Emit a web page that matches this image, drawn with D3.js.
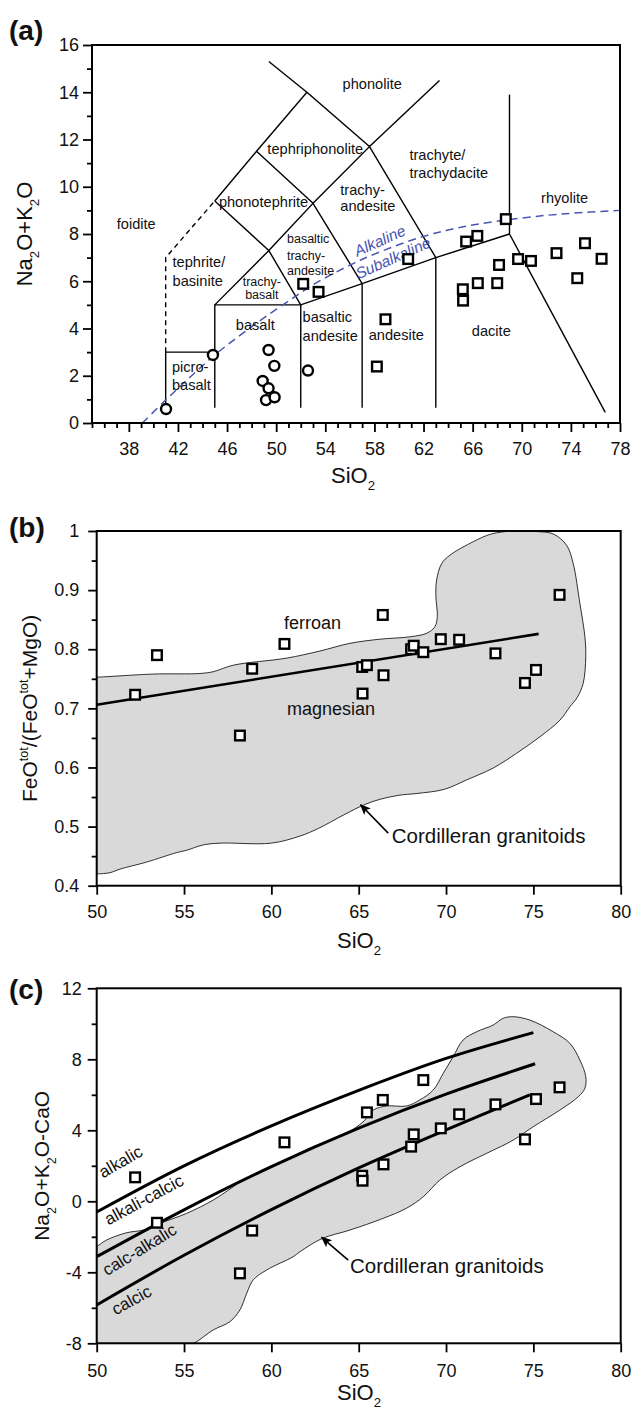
<!DOCTYPE html>
<html>
<head>
<meta charset="utf-8">
<script src="https://cdn.jsdelivr.net/npm/d3@7"></script>
<style>
  html, body { margin: 0; padding: 0; background: #fff; }
  svg text { font-family: "Liberation Sans", Arial, Helvetica, sans-serif; fill: #111; }
</style>
</head>
<body>
<svg id="fig" width="632" height="1412"></svg>
<script>
// ---------------- sample data (same 19 granitoid samples in all panels) ----------------
const sampleSiO2   = [52.2, 53.45, 58.2, 58.9, 60.75, 65.2, 65.22, 65.47, 66.38, 66.42, 68.0, 68.15, 68.7, 69.7, 70.75, 72.83, 74.52, 75.15, 76.5];
const sampleAlk    = [5.89, 5.55, 2.39, 4.39, 6.94, 5.66, 5.18, 7.68, 7.92, 5.92, 5.92, 6.69, 8.63, 6.94, 6.86, 7.19, 6.13, 7.61, 6.95];
const sampleFeNum  = [0.723, 0.790, 0.654, 0.767, 0.809, 0.770, 0.725, 0.773, 0.858, 0.756, 0.800, 0.806, 0.795, 0.817, 0.816, 0.793, 0.743, 0.765, 0.892];
const sampleMALI   = [1.35, -1.21, -4.06, -1.65, 3.32, 1.44, 1.16, 5.01, 5.71, 2.08, 3.08, 3.77, 6.83, 4.11, 4.90, 5.46, 3.49, 5.76, 6.42];

// basalts (circles, TAS only)
const basaltSiO2 = [41.03, 44.85, 49.38, 49.85, 48.9, 49.38, 49.17, 49.87, 52.59];
const basaltAlk  = [0.59, 2.88, 3.09, 2.42, 1.78, 1.47, 0.97, 1.09, 2.22];

// ---------------- TAS field boundaries ----------------
const tasSolid = [
  [[41, 0.65], [41, 3], [45, 3]],
  [[45, 0.65], [45, 5], [52, 5], [57, 5.9], [63, 7], [69, 8]],
  [[52, 0.65], [52, 5]],
  [[57, 0.65], [57, 5.9]],
  [[63, 0.65], [63, 7]],
  [[69, 8], [76.8, 0.45]],
  [[69, 8], [69, 13.9]],
  [[45, 5], [49.4, 7.3], [52, 5]],
  [[49.4, 7.3], [53, 9.3], [57, 5.9]],
  [[53, 9.3], [57.6, 11.7], [63, 7]],
  [[45, 9.4], [49.4, 7.3]],
  [[45, 9.4], [48.4, 11.5], [53, 9.3]],
  [[48.4, 11.5], [52.5, 14], [57.6, 11.7]],
  [[52.5, 14], [49.4, 15.3]],
  [[57.6, 11.7], [63.3, 14.5]]
];
const tasDashed = [[41, 3], [41, 7], [45, 9.4]];
const alkalineDivide = [[39.1, 0], [41, 0.97], [43, 1.95], [45, 2.88], [47.1, 3.73], [49, 4.45], [51.15, 5.21],
  [53, 5.85], [55.5, 6.55], [58, 7.15], [62, 7.9], [65, 8.28], [68.25, 8.56], [72, 8.79], [75, 8.91], [78, 9.0]];

const tasNames = [
  ["phonolite", 57.82, 14.14, "middle", 0], ["tephriphonolite", 53.18, 11.4, "middle", 0],
  ["trachyte/", 60.85, 11.14, "start", 0], ["trachydacite", 60.85, 10.38, "start", 0],
  ["rhyolite", 73.49, 9.31, "middle", 0], ["foidite", 38.6, 8.2, "middle", 0],
  ["phonotephrite", 48.97, 9.16, "middle", 0],
  ["trachy-", 55.22, 9.64, "start", 0], ["andesite", 55.22, 8.97, "start", 0],
  ["basaltic", 50.88, 7.61, "start", 1], ["trachy-", 50.88, 6.91, "start", 1], ["andesite", 50.88, 6.27, "start", 1],
  ["tephrite/", 41.56, 6.6, "start", 0], ["basinite", 41.56, 5.82, "start", 0],
  ["trachy-", 48.83, 5.78, "middle", 1], ["basalt", 48.83, 5.24, "middle", 1],
  ["basalt", 48.3, 3.94, "middle", 0],
  ["picro-", 41.51, 2.17, "start", 0], ["basalt", 41.51, 1.4, "start", 0],
  ["basaltic", 52.15, 4.27, "start", 0], ["andesite", 52.15, 3.47, "start", 0],
  ["andesite", 59.78, 3.52, "middle", 0], ["dacite", 67.52, 3.7, "middle", 0]
];

// ---------------- Fe-number panel ----------------
const ferroanDivide = [[50, 0.706], [75.3, 0.826]];
const cordilleranFe = [[50, 0.753], [50.19, 0.753], [53.24, 0.758], [55.91, 0.759], [56.67, 0.762], [57.82, 0.773],
  [60.88, 0.785], [62.78, 0.797], [64.5, 0.81], [66.22, 0.817], [67.93, 0.821], [68.89, 0.827], [69.36, 0.838],
  [69.5, 0.855], [69.42, 0.889], [69.46, 0.917], [69.75, 0.945], [70.22, 0.959], [71.56, 0.982], [72.6, 0.995],
  [73.85, 1.0], [75.2, 0.999], [76.14, 0.995], [76.9, 0.976], [77.28, 0.945], [77.66, 0.878], [77.95, 0.821],
  [78.0, 0.787], [77.85, 0.742], [77.5, 0.718], [77.1, 0.703], [76.52, 0.68], [75.38, 0.652], [74.04, 0.624],
  [72.7, 0.599], [71.18, 0.579], [69.9, 0.563], [68.33, 0.556], [67.3, 0.553], [66.2, 0.546], [65.32, 0.537],
  [64.16, 0.520], [62.7, 0.497], [61.64, 0.484], [60.0, 0.472], [57.06, 0.472], [56.1, 0.469], [55.15, 0.460],
  [54.58, 0.456], [52.86, 0.440], [51.33, 0.428], [50.76, 0.422], [50.1, 0.420], [50, 0.42]];

// ---------------- MALI panel ----------------
const maliAlkalic  = [[50, -0.6], [55, 2.0], [60, 4.25], [65, 6.25], [70, 8.05], [75, 9.5]];
const maliAlkCalc  = [[50, -3.12], [55, -0.48], [60, 1.95], [65, 4.12], [70, 6.04], [75.1, 7.75]];
const maliCalcAlk  = [[50, -5.84], [55, -3.04], [60, -0.47], [65, 1.88], [70, 4.02], [74.8, 6.0]];
const cordilleranMALI = [[50, -2.56], [50.57, -2.18], [51.72, -1.77], [52.67, -1.62], [53.62, -1.24], [55.15, -0.68],
  [56.67, 0.07], [57.82, 0.82], [58.3, 1.15], [60, 1.9], [62, 2.9], [64.3, 3.85], [65.26, 4.48], [65.83, 5.14],
  [66.6, 5.37], [67.74, 5.37], [68.5, 5.71], [69.27, 6.27], [69.84, 7.21], [70.41, 8.15], [70.98, 9.09], [71.75, 9.55],
  [72.7, 9.93], [73.27, 10.31], [73.85, 10.4], [74.8, 10.21], [76.14, 9.55], [77.09, 8.9], [77.66, 7.96], [78.0, 7.02],
  [77.95, 6.37], [77.57, 5.89], [76.52, 5.14], [74.99, 4.2], [73.85, 3.45], [72.32, 2.7], [70.8, 1.95], [69.65, 1.2],
  [68.7, 0.26], [67.74, -0.39], [66.4, -0.96], [64.5, -1.62], [62.9, -2.1], [61.64, -2.84], [61.25, -3.12],
  [59.73, -3.87], [58.96, -4.43], [58.59, -5.18], [58.2, -6.12], [57.63, -6.78], [56.67, -7.25], [55.72, -7.91], [55.5, -8]];
const maliNames = [["alkalic", 51.53, 1.95, -29.7], ["alkali-calcic", 52.86, -0.2, -28.4],
  ["calc-alkalic", 52.62, -3.0, -31.6], ["calcic", 52.15, -5.85, -29.2]];

// ---------------- axis ticks ----------------
const tasXMajor = [38, 42, 46, 50, 54, 58, 62, 66, 70, 74, 78];
const tasXMinor = d3.range(35, 79).filter(v => !tasXMajor.includes(v));
const tasYMajor = [0, 2, 4, 6, 8, 10, 12, 14, 16];
const tasYMinor = [1, 3, 5, 7, 9, 11, 13, 15];
const sioMajor = [50, 55, 60, 65, 70, 75, 80];
const feYMajor = [0.4, 0.5, 0.6, 0.7, 0.8, 0.9, 1];
const feYMinor = [0.45, 0.55, 0.65, 0.75, 0.85, 0.95];
const maliYMajor = [-8, -4, 0, 4, 8, 12];
const maliYMinor = [-6, -2, 2, 6, 10];

// ---------------- scales ----------------
const xA = d3.scaleLinear([35, 78], [92, 620]);
const yA = d3.scaleLinear([0, 16], [423, 45]);
const xB = d3.scaleLinear([50, 80], [96.7, 620.7]);
const yB = d3.scaleLinear([0.4, 1], [885.7, 531]);
const xC = d3.scaleLinear([50, 80], [96.7, 620.7]);
const yC = d3.scaleLinear([-8, 12], [1343.3, 988.3]);

const svg = d3.select("#fig");
const FONT = '"Liberation Sans", Arial, Helvetica, sans-serif';
const BLUE = "#4a55b2";
const TICK_FONT = 18;

const defs = svg.append("defs");
defs.append("marker").attr("id", "arrow").attr("viewBox", "0 0 10 10").attr("refX", 9).attr("refY", 5)
  .attr("markerWidth", 11).attr("markerHeight", 11).attr("markerUnits", "userSpaceOnUse").attr("orient", "auto")
  .append("path").attr("d", "M0,0.8 L10,5 L0,9.2 L2.2,5 Z").attr("fill", "#000");

function clipFor(id, x, y) {
  defs.append("clipPath").attr("id", id).append("rect")
    .attr("x", x.range()[0]).attr("y", y.range()[1])
    .attr("width", x.range()[1] - x.range()[0]).attr("height", y.range()[0] - y.range()[1]);
  return `url(#${id})`;
}

// text with sub/superscript runs
function rich(g, x, y, parts, size, opt = {}) {
  const t = g.append("text")
    .attr("transform", `translate(${x},${y})` + (opt.rotate ? ` rotate(${opt.rotate})` : ""))
    .attr("text-anchor", opt.anchor || "middle").attr("font-size", size);
  if (opt.italic) t.attr("font-style", "italic");
  if (opt.fill) t.style("fill", opt.fill);
  if (opt.weight) t.attr("font-weight", opt.weight);
  let shift = 0;
  parts.forEach(p => {
    const [s, kind] = Array.isArray(p) ? p : [p, null];
    const target = kind === "sub" ? size * 0.32 : kind === "sup" ? -size * 0.4 : 0;
    t.append("tspan").attr("dy", target - shift).attr("font-size", kind ? size * 0.6 : size).text(s);
    shift = target;
  });
  return t;
}

function styleAxis(sel) {
  sel.select(".domain").remove();
  sel.attr("font-family", FONT).attr("font-size", TICK_FONT);
  sel.selectAll("line").attr("stroke", "#000").attr("stroke-width", 1.8);
  sel.selectAll("text").style("fill", "#111");
}

function axes(g, x, y, o) {
  const yb = y.range()[0], xl = x.range()[0];
  g.append("g").attr("transform", `translate(0,${yb})`)
    .call(d3.axisBottom(x).tickValues(o.xMajor).tickSize(9).tickPadding(o.xPad).tickFormat(d => String(d)))
    .call(styleAxis);
  if (o.xMinor) g.append("g").attr("transform", `translate(0,${yb})`)
    .call(d3.axisBottom(x).tickValues(o.xMinor).tickSize(5).tickFormat("")).call(styleAxis);
  g.append("g").attr("transform", `translate(${xl},0)`)
    .call(d3.axisLeft(y).tickValues(o.yMajor).tickSize(o.yTick).tickPadding(o.yPad).tickFormat(o.yFmt || (d => String(d))))
    .call(styleAxis);
  if (o.yMinor) g.append("g").attr("transform", `translate(${xl},0)`)
    .call(d3.axisLeft(y).tickValues(o.yMinor).tickSize(5).tickFormat("")).call(styleAxis);
  const [x0, x1] = x.range(), [y0, y1] = y.range();
  g.append("rect").attr("x", x0).attr("y", y1).attr("width", x1 - x0).attr("height", y0 - y1)
    .attr("fill", "none").attr("stroke", "#000").attr("stroke-width", 2);
}

function squares(g, x, y, xs, ys) {
  g.append("g").selectAll("rect").data(d3.zip(xs, ys)).join("rect")
    .attr("x", d => x(d[0]) - 4.8).attr("y", d => y(d[1]) - 4.8)
    .attr("width", 9.6).attr("height", 9.6)
    .attr("fill", "#fff").attr("stroke", "#000").attr("stroke-width", 2.4);
}

// ======================= (a) TAS =======================
const gA = svg.append("g");
const lineA = d3.line().x(d => xA(d[0])).y(d => yA(d[1]));
gA.append("g").selectAll("path").data(tasSolid).join("path")
  .attr("d", lineA).attr("fill", "none").attr("stroke", "#000").attr("stroke-width", 1.4);
gA.append("path").attr("d", lineA(tasDashed)).attr("fill", "none").attr("stroke", "#000")
  .attr("stroke-width", 1.4).attr("stroke-dasharray", "5,4");
gA.append("path").attr("d", lineA.curve(d3.curveCatmullRom)(alkalineDivide)).attr("fill", "none")
  .attr("stroke", BLUE).attr("stroke-width", 1.5).attr("stroke-dasharray", "8,5");
lineA.curve(d3.curveLinear);

gA.append("g").selectAll("text").data(tasNames).join("text")
  .attr("x", d => xA(d[1])).attr("y", d => yA(d[2]))
  .attr("text-anchor", d => d[3]).attr("font-size", d => d[4] ? 12.5 : 14.6).text(d => d[0]);

rich(gA, xA(58.62), yA(7.72) + 5, ["Alkaline"], 15.5, { rotate: -24, italic: true, fill: BLUE });
rich(gA, xA(59.7), yA(6.99) + 5, ["Subalkaline"], 15.5, { rotate: -24, italic: true, fill: BLUE });

gA.append("g").selectAll("circle").data(d3.zip(basaltSiO2, basaltAlk)).join("circle")
  .attr("cx", d => xA(d[0])).attr("cy", d => yA(d[1])).attr("r", 5)
  .attr("fill", "#fff").attr("stroke", "#000").attr("stroke-width", 2.4);
squares(gA, xA, yA, sampleSiO2, sampleAlk);

axes(gA, xA, yA, { xMajor: tasXMajor, xMinor: tasXMinor, xPad: 10, yMajor: tasYMajor, yMinor: tasYMinor, yTick: 9, yPad: 4 });
rich(gA, 32, (yA.range()[0] + yA.range()[1]) / 2, ["Na", ["2", "sub"], "O+K", ["2", "sub"], "O"], 22, { rotate: -90 });
rich(gA, 353, 483, ["SiO", ["2", "sub"]], 22);
rich(gA, 9, 40, ["(a)"], 28, { anchor: "start", weight: "bold" });

// ======================= (b) Fe-number =======================
const gB = svg.append("g");
const lineB = d3.line().x(d => xB(d[0])).y(d => yB(d[1]));
const clipB = clipFor("clipB", xB, yB);
gB.append("path").attr("clip-path", clipB)
  .attr("d", lineB.curve(d3.curveCatmullRom)(cordilleranFe) + "Z")
  .attr("fill", "#d9d9d9").attr("stroke", "#000").attr("stroke-width", 0.8);
lineB.curve(d3.curveLinear);
gB.append("path").attr("d", lineB(ferroanDivide)).attr("fill", "none").attr("stroke", "#000").attr("stroke-width", 2.6);
squares(gB, xB, yB, sampleSiO2, sampleFeNum);
gB.append("text").attr("x", xB(62.35)).attr("y", yB(0.835)).attr("text-anchor", "middle").attr("font-size", 18).text("ferroan");
gB.append("text").attr("x", xB(63.41)).attr("y", yB(0.689)).attr("text-anchor", "middle").attr("font-size", 18).text("magnesian");
gB.append("text").attr("x", xB(66.89)).attr("y", yB(0.473)).attr("font-size", 20.5).text("Cordilleran granitoids");
gB.append("line").attr("x1", xB(66.69)).attr("y1", yB(0.489)).attr("x2", xB(65.11)).attr("y2", yB(0.537))
  .attr("stroke", "#000").attr("stroke-width", 1.6).attr("marker-end", "url(#arrow)");
axes(gB, xB, yB, { xMajor: sioMajor, xPad: 11, yMajor: feYMajor, yMinor: feYMinor, yTick: 8.5, yPad: 9,
  yFmt: d => String(+d.toFixed(2)) });
rich(gB, 36.5, (yB.range()[0] + yB.range()[1]) / 2,
  ["FeO", ["tot", "sup"], "/(FeO", ["tot", "sup"], "+MgO)"], 21, { rotate: -90 });
rich(gB, 359, 948, ["SiO", ["2", "sub"]], 22);
rich(gB, 9, 537, ["(b)"], 28, { anchor: "start", weight: "bold" });

// ======================= (c) MALI =======================
const gC = svg.append("g");
const lineC = d3.line().x(d => xC(d[0])).y(d => yC(d[1]));
const clipC = clipFor("clipC", xC, yC);
gC.append("path").attr("clip-path", clipC)
  .attr("d", lineC.curve(d3.curveCatmullRom)(cordilleranMALI) + `L${xC(50)},${yC(-8)}Z`)
  .attr("fill", "#d9d9d9").attr("stroke", "#000").attr("stroke-width", 0.8);
gC.append("g").selectAll("path").data([maliAlkalic, maliAlkCalc, maliCalcAlk]).join("path")
  .attr("d", d => lineC(d)).attr("fill", "none").attr("stroke", "#000").attr("stroke-width", 3);
squares(gC, xC, yC, sampleSiO2, sampleMALI);
gC.append("g").selectAll("text").data(maliNames).join("text")
  .attr("transform", d => `translate(${xC(d[1])},${yC(d[2])}) rotate(${d[3]})`)
  .attr("text-anchor", "middle").attr("font-size", 17).text(d => d[0]);
gC.append("text").attr("x", xC(64.5)).attr("y", yC(-4.06)).attr("font-size", 20.5).text("Cordilleran granitoids");
gC.append("line").attr("x1", xC(64.4)).attr("y1", yC(-3.31)).attr("x2", xC(62.88)).attr("y2", yC(-2.03))
  .attr("stroke", "#000").attr("stroke-width", 1.6).attr("marker-end", "url(#arrow)");
axes(gC, xC, yC, { xMajor: sioMajor, xPad: 11.5, yMajor: maliYMajor, yMinor: maliYMinor, yTick: 9, yPad: 6 });
rich(gC, 49, (yC.range()[0] + yC.range()[1]) / 2, ["Na", ["2", "sub"], "O+K", ["2", "sub"], "O-CaO"], 21, { rotate: -90 });
rich(gC, 359, 1400, ["SiO", ["2", "sub"]], 22);
rich(gC, 9, 999, ["(c)"], 28, { anchor: "start", weight: "bold" });
</script>
</body>
</html>
